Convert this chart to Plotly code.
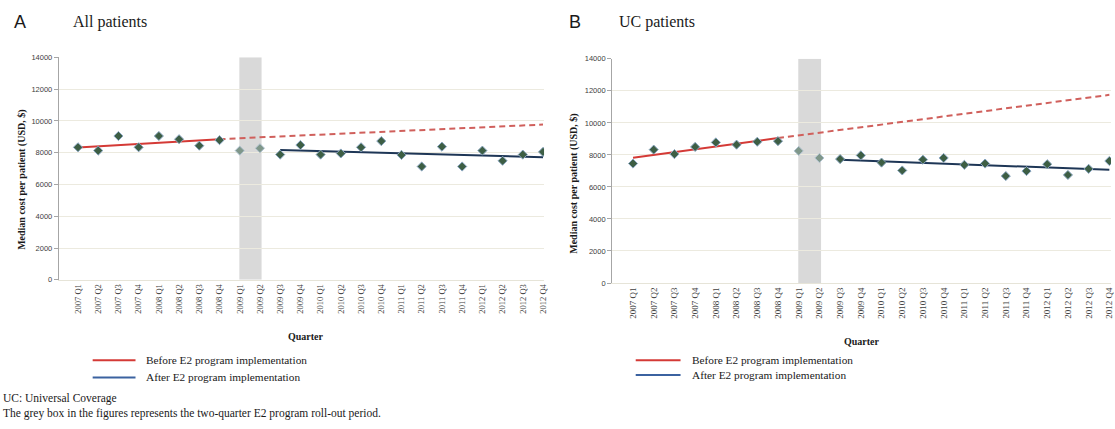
import plotly.graph_objects as go

W, H = 1115, 429

quarters = [f"{y} Q{q}" for y in range(2007, 2013) for q in range(1, 5)]

# Panel A: all patients (median cost per patient, USD)
all_costs = [8340, 8130, 9050, 8340, 9050, 8850, 8440, 8790,
             8130, 8280,
             7880, 8480, 7880, 7950, 8340, 8730, 7860, 7130, 8380, 7130,
             8130, 7490, 7880, 8050]
all_before_fit = [8320, 8850]        # 2007 Q1 -> 2008 Q4
all_projection = [8850, 9770]        # 2008 Q4 -> 2012 Q4
all_after_fit = [8170, 7720]         # 2009 Q3 -> 2012 Q4

# Panel B: UC patients
uc_costs = [7460, 8330, 8050, 8500, 8780, 8640, 8820, 8860,
            8250, 7810,
            7740, 7970, 7520, 7030, 7700, 7810, 7380, 7460, 6680, 6990,
            7420, 6750, 7130, 7620]
uc_before_fit = [7830, 9050]
uc_projection = [9050, 11750]
uc_after_fit = [7700, 7070]

rollout = ["2009 Q1", "2009 Q2"]
legend_labels = ["Before E2 program implementation", "After E2 program implementation"]

panels = [
    dict(costs=all_costs, before=all_before_fit, proj=all_projection, after=all_after_fit,
         xa="x", ya="y"),
    dict(costs=uc_costs, before=uc_before_fit, proj=uc_projection, after=uc_after_fit,
         xa="x2", ya="y2"),
]

RED = "#d43a36"
RED_DASH = "#d0605c"
NAVY = "#1e3656"
LEG_BLUE = "#3b62a0"
MK = "#3d5e44"
MK_LINE = "#8aa6c2"
SERIF = "Liberation Serif, Times New Roman, serif"
SANS = "Liberation Sans, Arial, sans-serif"


def px_x(v):
    return v / W


def px_y(v):
    return 1 - v / H


fig = go.Figure()
pre = quarters[:8]
post = quarters[10:]
for p in panels:
    xa, ya = p["xa"], p["ya"]
    roll_idx = [quarters.index(q) for q in rollout]
    fig.add_shape(type="rect", xref=xa, yref=ya, x0=roll_idx[0] - 0.02, x1=roll_idx[-1] + 0.08,
                  y0=0, y1=14000, fillcolor="#d9d9d9", line_width=0, layer="below")
    fig.add_trace(go.Scatter(x=[pre[-1], quarters[-1]], y=p["proj"], mode="lines",
                             line=dict(color=RED_DASH, width=2, dash="6px,4px"),
                             xaxis=xa, yaxis=ya, showlegend=False, hoverinfo="skip"))
    fig.add_trace(go.Scatter(x=[pre[0], pre[-1]], y=p["before"], mode="lines",
                             line=dict(color=RED, width=2), name=legend_labels[0],
                             xaxis=xa, yaxis=ya, showlegend=False))
    fig.add_trace(go.Scatter(x=[post[0], post[-1]], y=p["after"], mode="lines",
                             line=dict(color=NAVY, width=2), name=legend_labels[1],
                             xaxis=xa, yaxis=ya, showlegend=False))
    obs_x = [q for q in quarters if q not in rollout]
    obs_y = [c for q, c in zip(quarters, p["costs"]) if q not in rollout]
    fig.add_trace(go.Scatter(x=obs_x, y=obs_y, mode="markers",
                             marker=dict(symbol="diamond", size=7, color=MK,
                                         line=dict(color=MK_LINE, width=1)),
                             xaxis=xa, yaxis=ya, showlegend=False))
    fig.add_trace(go.Scatter(x=rollout, y=[p["costs"][i] for i in roll_idx], mode="markers",
                             marker=dict(symbol="diamond", size=7, color="#7f978a",
                                         line=dict(color="#b0c2d0", width=1)),
                             xaxis=xa, yaxis=ya, showlegend=False))

axis_common_x = dict(type="category", categoryorder="array", categoryarray=quarters,
                     tickangle=-90, showgrid=False, showline=True, linecolor="#e6e4d8",
                     linewidth=1, ticks="", zeroline=False)
axis_common_y = dict(range=[0, 14000], dtick=2000, tickformat="d", showgrid=True,
                     gridcolor="#eceadf", gridwidth=1, showline=True, linecolor="#a6a6a6",
                     linewidth=1, ticks="outside", ticklen=4, tickcolor="#a6a6a6",
                     zeroline=False, tickfont=dict(family=SANS, size=7.5, color="#404040"))

fig.update_layout(
    width=W, height=H,
    margin=dict(l=0, r=0, t=0, b=0),
    paper_bgcolor="white", plot_bgcolor="white",
    showlegend=False,
    xaxis=dict(axis_common_x, domain=[px_x(59), px_x(546)], range=[-0.95, 23.05], anchor="y",
               tickfont=dict(family=SERIF, size=8.5, color="#404040")),
    yaxis=dict(axis_common_y, domain=[px_y(281.7), px_y(54.5)], anchor="x"),
    xaxis2=dict(axis_common_x, domain=[px_x(614.3), 1.0], range=[-1.01, 23.08], anchor="y2",
                tickfont=dict(family=SERIF, size=9, color="#404040")),
    yaxis2=dict(axis_common_y, domain=[px_y(285), px_y(56)], anchor="x2"),
)

ann = [
    dict(text="A", x=12, y=18, size=18, fam=SANS, xa="left"),
    dict(text="All patients", x=71, y=18, size=16, fam=SERIF, xa="left"),
    dict(text="B", x=569, y=18, size=18, fam=SANS, xa="left"),
    dict(text="UC patients", x=619, y=18, size=16, fam=SERIF, xa="left"),
    dict(text="<b>Quarter</b>", x=307, y=340, size=10, fam=SERIF, xa="center"),
    dict(text="<b>Quarter</b>", x=865, y=345, size=10, fam=SERIF, xa="center"),
    dict(text="UC: Universal Coverage", x=1, y=403, size=11.5, fam=SERIF, xa="left"),
    dict(text="The grey box in the figures represents the two-quarter E2 program roll-out period.",
         x=1, y=418, size=11.5, fam=SERIF, xa="left"),
]
for a in ann:
    fig.add_annotation(text=a["text"], x=px_x(a["x"]), y=px_y(a["y"]), xref="paper", yref="paper",
                       xanchor=a["xa"], yanchor="middle", showarrow=False,
                       font=dict(family=a["fam"], size=a["size"], color="#1a1a1a"))

for x, yc in [(22.7, 180), (576.7, 184)]:
    fig.add_annotation(text="<b>Median cost per patient (USD, $)</b>", x=px_x(x), y=px_y(yc),
                       xref="paper", yref="paper", xanchor="center", yanchor="middle",
                       textangle=-90, showarrow=False,
                       font=dict(family=SERIF, size=10, color="#1a1a1a"))

# legends (one per panel)
for (lx0, lx1, tx, ys) in [(93, 136, 145, (364, 381.5)), (638, 683, 692, (364, 379))]:
    for label, col, yy in zip(legend_labels, [RED, LEG_BLUE], ys):
        fig.add_shape(type="line", xref="paper", yref="paper", x0=px_x(lx0), x1=px_x(lx1),
                      y0=px_y(yy), y1=px_y(yy), line=dict(color=col, width=2))
        fig.add_annotation(text=label, x=px_x(tx), y=px_y(yy), xref="paper", yref="paper",
                           xanchor="left", yanchor="middle", showarrow=False,
                           font=dict(family=SERIF, size=11.3, color="#1a1a1a"))

fig.write_html("out.html", config={"displayModeBar": False},
               post_script="document.body.style.margin='0';document.body.style.overflow='hidden';")
